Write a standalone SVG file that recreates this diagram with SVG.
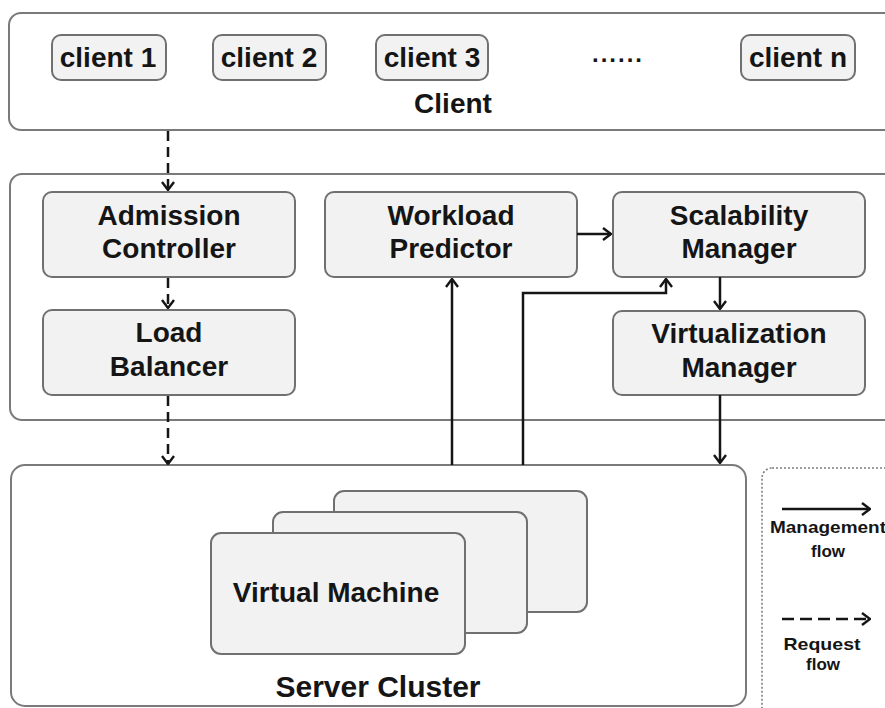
<svg xmlns="http://www.w3.org/2000/svg" width="885" height="708" viewBox="0 0 885 708">
  <style>
    .panel { fill: #ffffff; stroke: #7a7a7a; stroke-width: 2; }
    .node { fill: #f2f2f2; stroke: #707070; stroke-width: 2; }
    .lbl { font-family: "Liberation Sans", Arial, sans-serif; font-weight: bold; font-size: 28px; fill: #151515; text-anchor: middle; }
    .small { font-size: 17px; }
    .mgmt { fill: none; stroke: #151515; stroke-width: 2.5; marker-end: url(#chev); }
    .req { fill: none; stroke: #151515; stroke-width: 2.5; stroke-dasharray: 10 6; marker-end: url(#chev); }
  </style>
  <defs>
    <marker id="chev" markerUnits="userSpaceOnUse" viewBox="0 0 10 14" refX="9" refY="7" markerWidth="10" markerHeight="14" orient="auto">
      <path d="M1,1 L9,7 L1,13" fill="none" stroke="#151515" stroke-width="2.4"/>
    </marker>
  </defs>
  <rect width="885" height="708" fill="#ffffff"/>

  <!-- Client tier -->
  <g id="client">
    <rect class="panel" x="9" y="13" width="900" height="117" rx="12"/>
    <text class="lbl" x="453" y="113">Client</text>
  </g>
  <g id="client1">
    <rect class="node" x="52" y="35" width="114" height="45" rx="9"/>
    <text class="lbl" x="108" y="67">client 1</text>
  </g>
  <g id="client2">
    <rect class="node" x="213" y="35" width="113" height="45" rx="9"/>
    <text class="lbl" x="269" y="67">client 2</text>
  </g>
  <g id="client3">
    <rect class="node" x="376" y="35" width="112" height="45" rx="9"/>
    <text class="lbl" x="432" y="67">client 3</text>
  </g>
  <g id="ellipsis">
    <text class="lbl" x="618" y="62" style="font-size:24px;letter-spacing:2px">......</text>
  </g>
  <g id="clientn">
    <rect class="node" x="741" y="35" width="114" height="45" rx="9"/>
    <text class="lbl" x="798" y="67">client n</text>
  </g>

  <!-- Management tier -->
  <g id="management">
    <rect class="panel" x="10" y="174" width="900" height="246" rx="12"/>
  </g>
  <g id="admission">
    <rect class="node" x="43" y="192" width="252" height="85" rx="9"/>
    <text class="lbl" x="169" y="225">Admission</text>
    <text class="lbl" x="169" y="258">Controller</text>
  </g>
  <g id="loadbalancer">
    <rect class="node" x="43" y="310" width="252" height="85" rx="9"/>
    <text class="lbl" x="169" y="342">Load</text>
    <text class="lbl" x="169" y="376">Balancer</text>
  </g>
  <g id="workload">
    <rect class="node" x="325" y="192" width="252" height="85" rx="9"/>
    <text class="lbl" x="451" y="225">Workload</text>
    <text class="lbl" x="451" y="258">Predictor</text>
  </g>
  <g id="scalability">
    <rect class="node" x="613" y="192" width="252" height="85" rx="9"/>
    <text class="lbl" x="739" y="225">Scalability</text>
    <text class="lbl" x="739" y="258">Manager</text>
  </g>
  <g id="virtualization">
    <rect class="node" x="613" y="311" width="252" height="84" rx="9"/>
    <text class="lbl" x="739" y="343">Virtualization</text>
    <text class="lbl" x="739" y="377">Manager</text>
  </g>

  <!-- Server tier -->
  <g id="server">
    <rect class="panel" x="11" y="465" width="735" height="241" rx="14"/>
    <text class="lbl" x="378" y="697" style="font-size:30px">Server Cluster</text>
  </g>
  <g id="vm">
    <rect class="node" x="334" y="491" width="253" height="121" rx="10"/>
    <rect class="node" x="273" y="512" width="254" height="121" rx="10"/>
    <rect class="node" x="211" y="533" width="254" height="121" rx="10"/>
    <text class="lbl" x="336" y="602">Virtual Machine</text>
  </g>

  <!-- Legend -->
  <g id="legend">
    <rect x="762" y="468" width="150" height="270" rx="10" fill="#ffffff" stroke="#808080" stroke-width="1.6" stroke-dasharray="2 2"/>
    <line class="mgmt" x1="782" y1="509" x2="870" y2="509"/>
    <text class="lbl small" x="828" y="533" textLength="116" lengthAdjust="spacingAndGlyphs">Management</text>
    <text class="lbl small" x="828" y="557">flow</text>
    <line class="req" x1="782" y1="619" x2="870" y2="619" style="stroke-dasharray:12 6"/>
    <text class="lbl small" x="822" y="650" textLength="77" lengthAdjust="spacingAndGlyphs">Request</text>
    <text class="lbl small" x="823" y="670">flow</text>
  </g>

  <!-- Connectors -->
  <g id="connectors">
    <line class="req" x1="168" y1="131" x2="168" y2="190"/>
    <line class="req" x1="168" y1="278" x2="168" y2="308"/>
    <line class="req" x1="168" y1="396" x2="168" y2="464"/>
    <line class="mgmt" x1="577" y1="234" x2="611" y2="234"/>
    <line class="mgmt" x1="720" y1="277" x2="720" y2="309"/>
    <line class="mgmt" x1="720" y1="395" x2="720" y2="463"/>
    <line class="mgmt" x1="452" y1="465" x2="452" y2="279"/>
    <path class="mgmt" d="M523,465 V293 H666 V279"/>
  </g>
</svg>
